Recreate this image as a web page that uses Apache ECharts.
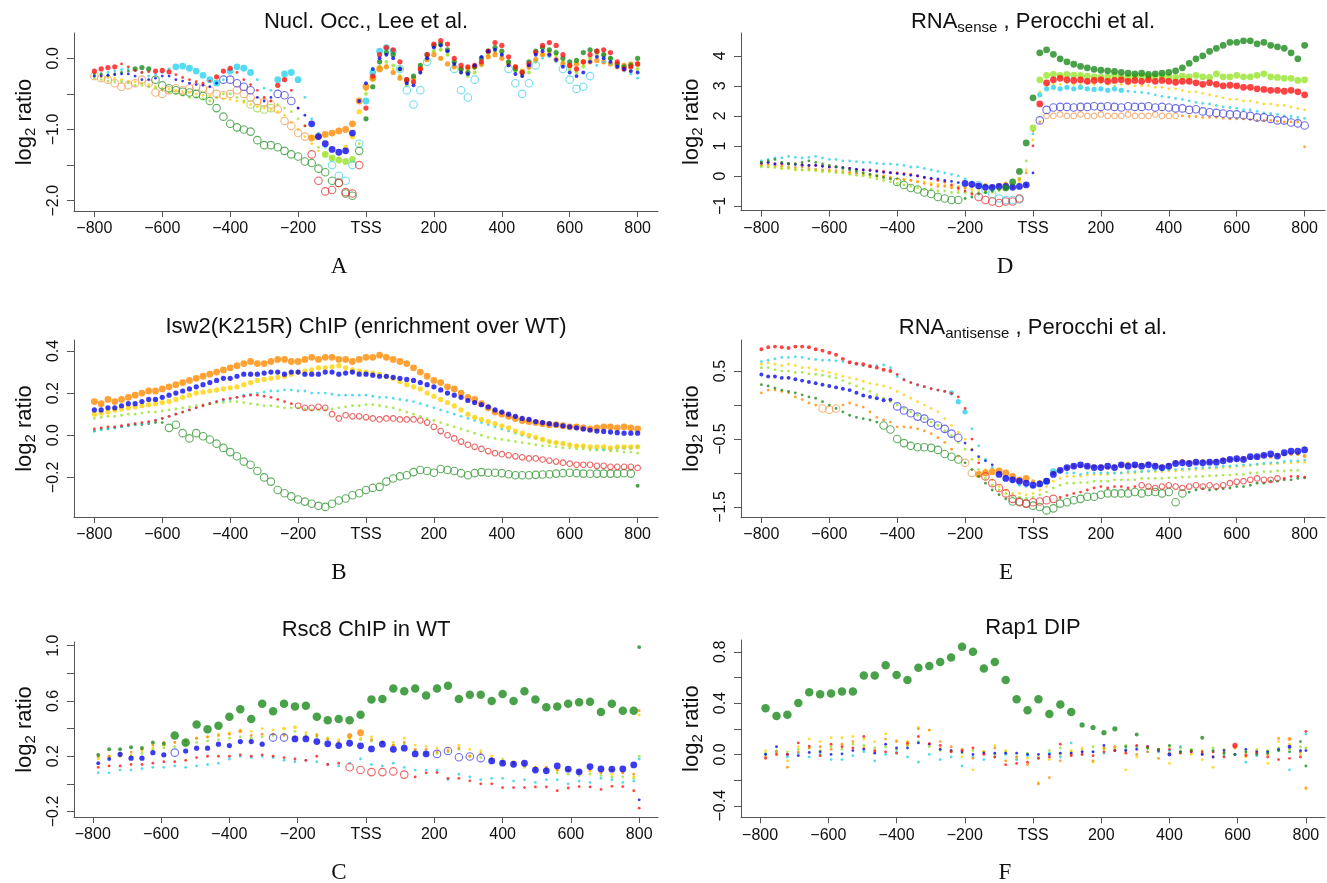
<!DOCTYPE html>
<html>
<head>
<meta charset="utf-8">
<script src="https://cdn.jsdelivr.net/npm/echarts@6/dist/echarts.min.js"></script>
<style>html,body{margin:0;padding:0;background:#fff}#chart{width:1327px;height:883px}</style>
</head>
<body>
<div id="chart"></div>
<script>
// ---------------- DATA ----------------
const X_TICKS = [-800, -600, -400, -200, 0, 200, 400, 600, 800];
const X_TICK_LABELS = ['\u2212800', '\u2212600', '\u2212400', '\u2212200', 'TSS', '200', '400', '600', '800'];

// dense profiles: positions -800..800 every 20 bp (81 values)
const DENSE_START = -800, DENSE_STEP = 20, DENSE_N = 81;
// sparse profiles (panels C, F): -784..784 every 32 bp, then 800 (51 values)
const SPARSE_START = -784, SPARSE_STEP = 32, SPARSE_N = 50, SPARSE_LAST = 800;

// Panel A: Nucl. Occ., Lee et al.
const A_TITLE = 'Nucl. Occ., Lee et al.';
const A_Y_TICKS = [-2, -1.5, -1, -0.5, 0];
const A_Y_LABEL_VALUES = [-2, -1, 0];
const A_Y_LABELS = ['\u22122.0', '\u22121.0', '0.0'];
const A_red = [-0.18,-0.15,-0.13,-0.12,-0.08,-0.12,-0.17,-0.20,-0.19,-0.18,
 -0.17,-0.19,-0.23,-0.27,-0.30,-0.33,-0.35,-0.32,-0.26,-0.18,
 -0.14,-0.20,-0.30,-0.37,-0.45,-0.55,-0.60,-0.38,-0.30,-0.45,
 -0.70,-0.95,-1.35,-1.72,-1.87,-1.85,-1.75,-1.88,-1.90,-1.50,
 -0.70,-0.25,0.05,0.15,0.12,-0.05,-0.30,-0.33,-0.15,0.05,
 0.20,0.25,0.20,0.00,-0.10,-0.12,-0.10,-0.05,0.10,0.22,
 0.18,0.02,-0.12,-0.20,-0.08,0.08,0.18,0.22,0.18,0.05,
 -0.10,-0.15,-0.05,0.05,0.10,0.12,0.08,-0.05,-0.15,-0.12,
 -0.08];
const A_green = [-0.22,-0.22,-0.24,-0.22,-0.20,-0.18,-0.15,-0.13,-0.15,-0.30,
 -0.38,-0.42,-0.45,-0.47,-0.48,-0.50,-0.53,-0.60,-0.70,-0.82,
 -0.92,-0.97,-1.00,-1.03,-1.15,-1.22,-1.22,-1.25,-1.30,-1.35,
 -1.38,-1.45,-1.47,-1.55,-1.60,-1.72,-1.75,-1.90,-1.93,-1.30,
 -0.85,-0.40,-0.05,0.08,0.05,-0.15,-0.30,-0.25,-0.10,0.05,
 0.18,0.20,0.12,-0.05,-0.15,-0.20,-0.12,0.00,0.10,0.15,
 0.10,-0.05,-0.15,-0.20,-0.05,0.10,0.15,0.12,0.08,0.00,
 -0.05,-0.03,0.08,0.12,0.10,0.05,0.00,-0.08,-0.12,-0.10,
 0.00];
const A_cyan = [-0.25,-0.22,-0.20,-0.18,-0.16,-0.15,-0.17,-0.20,-0.25,-0.22,
 -0.20,-0.15,-0.12,-0.11,-0.14,-0.18,-0.24,-0.30,-0.35,-0.30,
 -0.18,-0.12,-0.14,-0.20,-0.30,-0.42,-0.45,-0.30,-0.22,-0.20,
 -0.30,-0.55,-0.85,-1.05,-1.25,-1.50,-1.65,-1.72,-1.50,-1.20,
 -0.60,-0.20,0.10,0.15,0.10,-0.15,-0.45,-0.65,-0.45,-0.05,
 0.18,0.20,0.10,-0.15,-0.45,-0.55,-0.30,-0.05,0.10,0.12,
 0.05,-0.15,-0.35,-0.50,-0.35,-0.10,0.00,0.02,-0.05,-0.15,
 -0.30,-0.43,-0.40,-0.25,-0.10,-0.05,-0.08,-0.12,-0.18,-0.22,
 -0.28];
const A_blue = [-0.25,-0.25,-0.24,-0.23,-0.22,-0.22,-0.25,-0.30,-0.30,-0.28,
 -0.25,-0.25,-0.30,-0.32,-0.35,-0.37,-0.38,-0.40,-0.35,-0.30,
 -0.30,-0.35,-0.40,-0.45,-0.55,-0.60,-0.55,-0.50,-0.52,-0.60,
 -0.70,-0.80,-0.92,-1.10,-1.20,-1.28,-1.32,-1.30,-1.05,-0.60,
 -0.35,-0.15,0.00,0.05,0.00,-0.15,-0.35,-0.38,-0.20,0.00,
 0.15,0.18,0.10,-0.08,-0.20,-0.22,-0.10,0.02,0.10,0.12,
 0.05,-0.10,-0.22,-0.25,-0.10,0.05,0.10,0.05,-0.02,-0.12,
 -0.20,-0.25,-0.20,-0.05,0.02,0.00,-0.05,-0.12,-0.15,-0.18,
 -0.20];
const A_orange = [-0.25,-0.28,-0.30,-0.35,-0.40,-0.38,-0.35,-0.30,-0.35,-0.48,
 -0.50,-0.45,-0.42,-0.45,-0.42,-0.40,-0.42,-0.45,-0.50,-0.52,
 -0.50,-0.45,-0.50,-0.55,-0.60,-0.62,-0.65,-0.72,-0.88,-0.95,
 -1.05,-1.10,-1.12,-1.10,-1.07,-1.05,-1.02,-1.00,-0.92,-0.60,
 -0.40,-0.28,-0.15,-0.12,-0.20,-0.28,-0.32,-0.28,-0.15,-0.02,
 0.05,0.00,-0.08,-0.12,-0.15,-0.14,-0.12,-0.08,0.02,0.05,
 0.00,-0.08,-0.12,-0.18,-0.12,-0.02,0.05,0.05,-0.02,-0.08,
 -0.10,-0.08,-0.05,-0.05,-0.03,-0.05,-0.08,-0.12,-0.10,-0.08,
 -0.08];
const A_yellow = [-0.25,-0.26,-0.27,-0.28,-0.30,-0.32,-0.33,-0.35,-0.37,-0.40,
 -0.42,-0.43,-0.45,-0.47,-0.48,-0.50,-0.52,-0.53,-0.55,-0.57,
 -0.58,-0.60,-0.62,-0.65,-0.68,-0.70,-0.72,-0.75,-0.80,-0.90,
 -1.00,-1.10,-1.20,-1.30,-1.35,-1.40,-1.40,-1.25,-1.10,-0.75,
 -0.45,-0.30,-0.15,-0.10,-0.15,-0.25,-0.35,-0.30,-0.15,-0.02,
 0.10,0.12,0.05,-0.10,-0.18,-0.20,-0.15,-0.08,0.02,0.08,
 0.05,-0.05,-0.15,-0.22,-0.15,-0.02,0.05,0.08,0.02,-0.05,
 -0.12,-0.15,-0.10,0.00,0.05,0.05,0.00,-0.08,-0.12,-0.12,
 -0.10];
const A_lgreen = [-0.28,-0.30,-0.32,-0.33,-0.33,-0.35,-0.38,-0.38,-0.40,-0.42,
 -0.45,-0.48,-0.50,-0.52,-0.55,-0.55,-0.57,-0.60,-0.55,-0.50,
 -0.50,-0.55,-0.60,-0.65,-0.70,-0.72,-0.70,-0.65,-0.70,-0.75,
 -0.85,-0.95,-1.10,-1.25,-1.35,-1.40,-1.43,-1.45,-1.42,-1.20,
 -0.50,-0.30,-0.12,-0.05,-0.10,-0.25,-0.38,-0.35,-0.20,0.00,
 0.10,0.12,0.05,-0.10,-0.20,-0.25,-0.20,-0.10,0.05,0.10,
 0.05,-0.05,-0.18,-0.25,-0.20,-0.05,0.05,0.10,0.05,-0.05,
 -0.15,-0.20,-0.12,0.00,0.05,0.05,0.00,-0.08,-0.15,-0.18,
 -0.15];

// Panel B: Isw2(K215R) ChIP (enrichment over WT)
const B_TITLE = 'Isw2(K215R) ChIP (enrichment over WT)';
const B_Y_TICKS = [-0.2, 0, 0.2, 0.4];
const B_Y_LABEL_VALUES = [-0.2, 0, 0.2, 0.4];
const B_Y_LABELS = ['\u22120.2', '0.0', '0.2', '0.4'];
const B_orange = [0.16,0.15,0.17,0.16,0.17,0.18,0.19,0.20,0.21,0.21,
 0.22,0.23,0.24,0.25,0.26,0.27,0.28,0.29,0.30,0.31,
 0.32,0.33,0.34,0.35,0.34,0.34,0.35,0.36,0.36,0.35,
 0.35,0.36,0.37,0.36,0.37,0.37,0.36,0.36,0.35,0.36,
 0.37,0.37,0.38,0.37,0.36,0.35,0.34,0.32,0.30,0.28,
 0.26,0.25,0.23,0.22,0.20,0.18,0.17,0.15,0.13,0.11,
 0.10,0.09,0.08,0.07,0.065,0.06,0.055,0.05,0.05,0.045,
 0.04,0.04,0.035,0.03,0.035,0.04,0.04,0.035,0.04,0.035,
 0.03];
const B_blue = [0.12,0.12,0.13,0.13,0.14,0.15,0.15,0.16,0.17,0.17,
 0.18,0.19,0.20,0.21,0.22,0.23,0.24,0.25,0.26,0.27,
 0.27,0.28,0.29,0.29,0.29,0.295,0.30,0.30,0.29,0.30,
 0.30,0.29,0.29,0.29,0.30,0.30,0.29,0.295,0.30,0.29,
 0.29,0.285,0.28,0.28,0.275,0.27,0.265,0.26,0.25,0.24,
 0.23,0.215,0.20,0.19,0.18,0.165,0.155,0.145,0.135,0.12,
 0.11,0.10,0.09,0.08,0.075,0.065,0.06,0.055,0.05,0.045,
 0.04,0.035,0.03,0.025,0.02,0.018,0.015,0.012,0.01,0.01,
 0.01];
const B_yellow = [0.10,0.105,0.11,0.12,0.125,0.13,0.135,0.14,0.145,0.15,
 0.155,0.16,0.17,0.18,0.19,0.20,0.205,0.21,0.215,0.22,
 0.225,0.23,0.24,0.25,0.26,0.265,0.27,0.275,0.28,0.29,
 0.30,0.305,0.31,0.32,0.32,0.325,0.33,0.32,0.31,0.305,
 0.30,0.295,0.29,0.28,0.27,0.255,0.24,0.23,0.22,0.20,
 0.185,0.17,0.155,0.14,0.12,0.10,0.085,0.075,0.065,0.055,
 0.045,0.035,0.02,0.01,0.00,-0.01,-0.02,-0.03,-0.035,-0.04,
 -0.045,-0.05,-0.05,-0.055,-0.055,-0.055,-0.06,-0.055,-0.055,-0.055,
 -0.055];
const B_cyan = [0.02,0.025,0.03,0.035,0.04,0.045,0.05,0.055,0.06,0.07,
 0.08,0.09,0.10,0.11,0.12,0.13,0.14,0.15,0.16,0.165,
 0.17,0.18,0.19,0.195,0.20,0.205,0.21,0.21,0.215,0.215,
 0.21,0.21,0.20,0.20,0.20,0.195,0.19,0.19,0.19,0.19,
 0.19,0.185,0.18,0.18,0.175,0.17,0.165,0.16,0.15,0.14,
 0.13,0.12,0.11,0.10,0.09,0.08,0.07,0.06,0.05,0.04,
 0.03,0.02,0.01,0.00,-0.01,-0.015,-0.02,-0.03,-0.035,-0.04,
 -0.045,-0.05,-0.055,-0.06,-0.065,-0.065,-0.065,-0.06,-0.06,-0.06,
 -0.055];
const B_red = [0.03,0.035,0.04,0.04,0.045,0.05,0.055,0.06,0.065,0.07,
 0.08,0.09,0.10,0.11,0.12,0.13,0.14,0.15,0.16,0.17,
 0.175,0.18,0.185,0.19,0.19,0.185,0.18,0.17,0.16,0.15,
 0.14,0.13,0.13,0.135,0.13,0.10,0.08,0.095,0.09,0.09,
 0.085,0.08,0.075,0.08,0.08,0.075,0.075,0.075,0.07,0.06,
 0.04,0.02,0.00,-0.015,-0.03,-0.045,-0.055,-0.065,-0.075,-0.085,
 -0.09,-0.095,-0.10,-0.105,-0.11,-0.11,-0.115,-0.12,-0.125,-0.13,
 -0.135,-0.14,-0.14,-0.14,-0.145,-0.145,-0.15,-0.15,-0.15,-0.15,
 -0.155];
const B_lgreen = [0.08,0.085,0.09,0.09,0.095,0.10,0.10,0.105,0.11,0.11,
 0.115,0.12,0.125,0.13,0.135,0.14,0.145,0.15,0.155,0.155,
 0.16,0.16,0.155,0.15,0.145,0.14,0.14,0.135,0.13,0.13,
 0.13,0.125,0.12,0.12,0.12,0.125,0.13,0.135,0.14,0.14,
 0.145,0.145,0.14,0.135,0.13,0.12,0.11,0.10,0.09,0.08,
 0.07,0.06,0.05,0.04,0.03,0.02,0.01,0.00,-0.01,-0.015,
 -0.02,-0.025,-0.03,-0.035,-0.04,-0.045,-0.05,-0.05,-0.055,-0.06,
 -0.06,-0.065,-0.065,-0.07,-0.07,-0.07,-0.075,-0.075,-0.08,-0.08,
 -0.085];
const B_green = [0.02,0.03,0.03,0.035,0.04,0.045,0.05,0.05,0.055,0.06,
 0.06,0.035,0.05,0.01,-0.015,0.01,-0.005,-0.02,-0.04,-0.06,
 -0.08,-0.10,-0.125,-0.14,-0.17,-0.20,-0.22,-0.26,-0.275,-0.29,
 -0.305,-0.315,-0.325,-0.335,-0.34,-0.325,-0.31,-0.30,-0.285,-0.275,
 -0.26,-0.25,-0.245,-0.22,-0.205,-0.195,-0.19,-0.175,-0.165,-0.17,
 -0.178,-0.16,-0.165,-0.17,-0.18,-0.19,-0.18,-0.175,-0.178,-0.178,
 -0.18,-0.185,-0.19,-0.19,-0.19,-0.188,-0.186,-0.185,-0.182,-0.18,
 -0.178,-0.18,-0.182,-0.183,-0.182,-0.182,-0.182,-0.182,-0.18,-0.182,
 -0.24];

// Panel C: Rsc8 ChIP in WT
const C_TITLE = 'Rsc8 ChIP in WT';
const C_Y_TICKS = [-0.2, 0, 0.2, 0.4, 0.6, 0.8, 1.0];
const C_Y_LABEL_VALUES = [-0.2, 0.2, 0.6, 1.0];
const C_Y_LABELS = ['\u22120.2', '0.2', '0.6', '1.0'];
const C_green = [0.21,0.25,0.25,0.265,0.26,0.30,0.29,0.35,0.30,0.43,
 0.395,0.42,0.485,0.54,0.47,0.58,0.525,0.58,0.56,0.565,
 0.485,0.46,0.47,0.46,0.50,0.61,0.615,0.69,0.67,0.69,
 0.64,0.69,0.71,0.615,0.645,0.645,0.60,0.65,0.60,0.67,
 0.61,0.555,0.56,0.58,0.59,0.595,0.52,0.58,0.53,0.53,
 0.99];
const C_blue = [0.15,0.18,0.214,0.186,0.186,0.226,0.21,0.226,0.238,0.258,
 0.258,0.287,0.277,0.306,0.306,0.287,0.335,0.335,0.325,0.325,
 0.306,0.29,0.277,0.294,0.275,0.253,0.287,0.25,0.258,0.217,
 0.217,0.217,0.238,0.193,0.198,0.186,0.166,0.15,0.142,0.15,
 0.10,0.094,0.13,0.106,0.087,0.125,0.108,0.106,0.108,0.137,
 -0.116];
const C_red = [0.12,0.13,0.13,0.14,0.14,0.15,0.16,0.16,0.17,0.19,
 0.20,0.20,0.20,0.21,0.20,0.21,0.20,0.19,0.18,0.17,
 0.20,0.14,0.15,0.12,0.10,0.085,0.085,0.09,0.067,0.05,
 0.08,0.082,0.04,0.04,0.022,0.00,0.00,-0.027,-0.027,-0.027,
 -0.022,-0.022,-0.05,-0.03,-0.02,-0.022,-0.04,-0.018,-0.02,-0.05,
 -0.176];
const C_orange = [0.20,0.20,0.22,0.23,0.25,0.28,0.30,0.30,0.31,0.33,
 0.34,0.35,0.36,0.38,0.35,0.36,0.36,0.35,0.34,0.34,
 0.35,0.32,0.30,0.35,0.37,0.32,0.30,0.28,0.30,0.25,
 0.25,0.23,0.24,0.26,0.20,0.22,0.18,0.16,0.15,0.13,
 0.12,0.12,0.10,0.10,0.09,0.10,0.08,0.10,0.08,0.07,
 0.53];
const C_yellow = [0.18,0.19,0.20,0.21,0.24,0.26,0.28,0.30,0.31,0.33,
 0.34,0.36,0.37,0.39,0.38,0.40,0.39,0.40,0.41,0.37,
 0.36,0.33,0.32,0.33,0.33,0.34,0.31,0.30,0.33,0.28,
 0.27,0.26,0.26,0.28,0.25,0.24,0.20,0.18,0.16,0.15,
 0.12,0.12,0.10,0.10,0.08,0.09,0.08,0.07,0.08,0.05,
 0.50];
const C_lgreen = [0.19,0.20,0.20,0.20,0.22,0.25,0.26,0.27,0.28,0.30,
 0.31,0.32,0.33,0.34,0.33,0.34,0.35,0.36,0.38,0.35,
 0.34,0.33,0.31,0.33,0.32,0.31,0.30,0.28,0.29,0.24,
 0.22,0.22,0.23,0.25,0.20,0.19,0.18,0.15,0.14,0.12,
 0.10,0.10,0.08,0.07,0.06,0.07,0.06,0.05,0.05,0.04,
 0.20];
const C_cyan = [0.08,0.08,0.10,0.10,0.11,0.12,0.12,0.13,0.12,0.13,
 0.14,0.15,0.18,0.20,0.19,0.20,0.19,0.17,0.16,0.17,
 0.16,0.14,0.13,0.15,0.18,0.14,0.13,0.15,0.12,0.10,
 0.10,0.10,0.03,0.07,0.05,0.03,0.04,0.04,0.02,0.03,
 0.01,0.03,0.03,0.00,0.02,0.01,0.04,0.03,0.01,0.02,
 0.18];

// Panel D: RNA sense, Perocchi et al.
const D_TITLE = ['RNA', 'sense', ' , Perocchi et al.'];
const D_Y_TICKS = [-1, 0, 1, 2, 3, 4];
const D_Y_LABEL_VALUES = [-1, 0, 1, 2, 3, 4];
const D_Y_LABELS = ['\u22121', '0', '1', '2', '3', '4'];
const D_green = [0.45,0.50,0.55,0.45,0.40,0.40,0.45,0.50,0.45,0.40,
 0.35,0.30,0.25,0.20,0.15,0.10,0.05,0.00,-0.05,-0.10,
 -0.20,-0.30,-0.40,-0.45,-0.55,-0.60,-0.70,-0.75,-0.80,-0.80,
 -0.75,-0.70,-0.60,-0.55,-0.50,-0.45,-0.40,-0.20,0.15,1.10,
 2.60,4.10,4.20,4.05,3.90,3.80,3.72,3.65,3.60,3.55,
 3.52,3.50,3.48,3.45,3.42,3.40,3.42,3.38,3.40,3.42,
 3.45,3.50,3.60,3.75,3.90,4.00,4.15,4.25,4.35,4.45,
 4.45,4.50,4.50,4.40,4.45,4.35,4.30,4.25,4.10,3.90,
 4.35];
const D_lgreen = [0.30,0.30,0.28,0.25,0.25,0.22,0.20,0.20,0.18,0.15,
 0.15,0.12,0.10,0.05,0.02,0.00,-0.05,-0.10,-0.15,-0.20,
 -0.25,-0.30,-0.35,-0.40,-0.45,-0.45,-0.50,-0.50,-0.55,-0.55,
 -0.55,-0.55,-0.55,-0.55,-0.55,-0.50,-0.45,-0.30,-0.10,0.50,
 1.60,3.20,3.35,3.38,3.35,3.38,3.36,3.35,3.32,3.30,
 3.28,3.30,3.35,3.30,3.28,3.30,3.32,3.30,3.30,3.32,
 3.30,3.28,3.32,3.30,3.35,3.30,3.28,3.40,3.30,3.30,
 3.35,3.30,3.30,3.35,3.40,3.30,3.28,3.25,3.25,3.18,
 3.20];
const D_red = [0.45,0.45,0.40,0.40,0.42,0.40,0.38,0.35,0.35,0.33,
 0.30,0.30,0.28,0.25,0.22,0.20,0.20,0.18,0.15,0.12,
 0.10,0.08,0.05,0.00,-0.05,-0.10,-0.15,-0.20,-0.30,-0.40,
 -0.50,-0.60,-0.70,-0.80,-0.85,-0.90,-0.85,-0.85,-0.75,-0.30,
 1.00,2.40,3.10,3.20,3.25,3.20,3.18,3.20,3.15,3.18,
 3.20,3.15,3.18,3.20,3.15,3.18,3.15,3.20,3.15,3.18,
 3.15,3.12,3.15,3.15,3.10,3.05,3.10,3.05,3.00,3.02,
 3.00,2.95,2.95,2.90,2.88,2.85,2.85,2.82,2.85,2.80,
 2.70];
const D_orange = [0.35,0.38,0.35,0.32,0.30,0.28,0.30,0.25,0.22,0.20,
 0.20,0.18,0.15,0.12,0.10,0.08,0.05,0.02,0.00,-0.05,
 -0.10,-0.12,-0.15,-0.20,-0.25,-0.30,-0.35,-0.35,-0.40,-0.45,
 -0.40,-0.35,-0.30,-0.30,-0.35,-0.30,-0.25,-0.30,-0.10,0.10,
 1.50,1.80,2.00,2.00,2.05,2.00,2.00,2.05,2.00,2.00,
 2.05,2.00,2.00,2.00,2.05,2.00,2.00,2.00,2.05,2.00,
 2.00,2.00,2.00,1.98,1.98,1.95,1.95,1.95,1.92,1.90,
 1.90,1.90,1.88,1.85,1.85,1.85,1.82,1.80,1.80,1.80,
 0.97];
const D_yellow = [0.35,0.30,0.30,0.25,0.25,0.20,0.20,0.20,0.18,0.15,
 0.15,0.12,0.10,0.08,0.05,0.02,0.00,-0.02,-0.05,-0.08,
 -0.10,-0.12,-0.15,-0.18,-0.20,-0.25,-0.28,-0.30,-0.35,-0.35,
 -0.40,-0.45,-0.45,-0.50,-0.50,-0.45,-0.45,-0.40,-0.20,0.20,
 1.20,2.80,3.00,3.05,3.05,3.10,3.05,3.05,3.10,3.05,
 3.10,3.05,3.00,3.05,3.05,3.00,3.00,3.00,2.95,2.95,
 2.90,2.90,2.85,2.80,2.80,2.75,2.70,2.65,2.60,2.55,
 2.55,2.50,2.50,2.45,2.40,2.40,2.35,2.35,2.30,2.25,
 2.20];
const D_cyan = [0.50,0.55,0.60,0.60,0.65,0.62,0.60,0.62,0.65,0.60,
 0.55,0.55,0.50,0.50,0.48,0.45,0.45,0.42,0.40,0.40,
 0.38,0.35,0.30,0.30,0.25,0.20,0.15,0.10,0.05,0.00,
 -0.10,-0.20,-0.30,-0.45,-0.60,-0.75,-0.80,-0.80,-0.78,-0.30,
 1.40,2.70,2.90,2.95,2.90,2.95,2.90,2.95,2.90,2.88,
 2.90,2.85,2.90,2.85,2.82,2.80,2.78,2.75,2.70,2.65,
 2.62,2.58,2.55,2.50,2.45,2.42,2.40,2.35,2.30,2.28,
 2.25,2.20,2.20,2.15,2.10,2.08,2.05,2.00,1.98,1.95,
 1.92];
const D_blue = [0.42,0.45,0.40,0.42,0.40,0.38,0.36,0.35,0.35,0.32,
 0.30,0.30,0.28,0.25,0.22,0.20,0.18,0.15,0.12,0.10,
 0.08,0.05,0.02,0.00,-0.05,-0.08,-0.10,-0.15,-0.18,-0.22,
 -0.25,-0.28,-0.33,-0.38,-0.38,-0.35,-0.35,-0.38,-0.35,-0.30,
 0.10,1.85,2.20,2.28,2.30,2.30,2.28,2.30,2.30,2.32,
 2.30,2.32,2.30,2.28,2.32,2.30,2.30,2.32,2.28,2.30,
 2.28,2.25,2.25,2.20,2.22,2.15,2.12,2.10,2.08,2.05,
 2.05,2.02,2.00,1.95,1.95,1.90,1.85,1.85,1.78,1.75,
 1.68];

// Panel E: RNA antisense, Perocchi et al.
const E_TITLE = ['RNA', 'antisense', ' , Perocchi et al.'];
const E_Y_TICKS = [-1.5, -1, -0.5, 0, 0.5];
const E_Y_LABEL_VALUES = [-1.5, -0.5, 0.5];
const E_Y_LABELS = ['\u22121.5', '\u22120.5', '0.5'];
const E_red = [0.82,0.85,0.86,0.85,0.84,0.86,0.86,0.85,0.82,0.80,
 0.77,0.74,0.68,0.63,0.61,0.60,0.57,0.55,0.52,0.50,
 0.45,0.37,0.33,0.30,0.27,0.24,0.22,0.20,0.17,0.12,
 -0.05,-0.50,-0.85,-1.05,-1.15,-1.22,-1.30,-1.38,-1.43,-1.45,
 -1.43,-1.42,-1.40,-1.38,-1.36,-1.33,-1.30,-1.28,-1.25,-1.22,
 -1.20,-1.22,-1.20,-1.20,-1.22,-1.20,-1.18,-1.20,-1.22,-1.20,
 -1.18,-1.20,-1.22,-1.20,-1.18,-1.20,-1.18,-1.20,-1.18,-1.15,
 -1.13,-1.12,-1.10,-1.08,-1.10,-1.10,-1.08,-1.08,-1.05,-1.05,
 -1.06];
const E_blue = [0.45,0.42,0.42,0.40,0.40,0.38,0.36,0.34,0.32,0.30,
 0.28,0.26,0.24,0.22,0.18,0.14,0.12,0.10,0.07,0.08,
 -0.02,-0.08,-0.12,-0.17,-0.20,-0.26,-0.30,-0.35,-0.42,-0.48,
 -0.56,-0.66,-0.76,-0.82,-0.88,-1.02,-1.08,-1.10,-1.12,-1.15,
 -1.18,-1.16,-1.12,-1.02,-0.96,-0.92,-0.90,-0.88,-0.90,-0.92,
 -0.92,-0.90,-0.92,-0.88,-0.90,-0.88,-0.90,-0.88,-0.90,-0.92,
 -0.90,-0.86,-0.85,-0.86,-0.84,-0.85,-0.84,-0.84,-0.82,-0.80,
 -0.79,-0.80,-0.76,-0.76,-0.74,-0.72,-0.75,-0.70,-0.68,-0.68,
 -0.66];
const E_cyan = [0.64,0.66,0.68,0.70,0.70,0.71,0.70,0.68,0.67,0.66,
 0.66,0.65,0.64,0.62,0.60,0.58,0.57,0.58,0.59,0.55,
 0.42,0.38,0.33,0.29,0.27,0.24,0.22,0.20,0.18,0.05,
 -0.10,-0.35,-0.60,-0.80,-0.92,-0.98,-1.05,-1.12,-1.18,-1.20,
 -1.20,-1.18,-1.12,-0.98,-0.98,-1.00,-1.00,-1.02,-1.00,-1.00,
 -1.00,-1.00,-1.00,-1.00,-0.98,-0.98,-0.98,-0.97,-0.96,-0.96,
 -0.95,-0.95,-0.94,-0.94,-0.93,-0.92,-0.92,-0.91,-0.90,-0.90,
 -0.89,-0.88,-0.88,-0.87,-0.86,-0.85,-0.85,-0.83,-0.82,-0.82,
 -0.81];
const E_orange = [0.18,0.22,0.22,0.20,0.18,0.12,0.08,0.03,0.00,-0.05,
 -0.07,-0.05,0.00,0.03,0.00,-0.03,-0.10,-0.18,-0.22,-0.25,
 -0.32,-0.32,-0.33,-0.35,-0.38,-0.42,-0.48,-0.55,-0.65,-0.75,
 -0.85,-1.00,-1.02,-1.00,-0.98,-0.97,-1.00,-1.05,-1.10,-1.08,
 -1.12,-1.13,-1.10,-1.00,-0.95,-0.92,-0.90,-0.90,-0.90,-0.90,
 -0.90,-0.92,-0.90,-0.88,-0.86,-0.90,-0.88,-0.86,-0.88,-0.90,
 -0.88,-0.84,-0.82,-0.84,-0.85,-0.82,-0.84,-0.82,-0.80,-0.80,
 -0.80,-0.78,-0.78,-0.76,-0.74,-0.76,-0.74,-0.73,-0.72,-0.72,
 -0.75];
const E_green = [0.30,0.28,0.25,0.22,0.20,0.18,0.15,0.12,0.10,0.05,
 0.00,-0.05,-0.10,-0.15,-0.18,-0.20,-0.22,-0.25,-0.30,-0.36,
 -0.50,-0.56,-0.60,-0.62,-0.62,-0.63,-0.66,-0.72,-0.76,-0.80,
 -0.85,-0.95,-1.05,-1.15,-1.25,-1.32,-1.38,-1.42,-1.42,-1.45,
 -1.48,-1.50,-1.55,-1.52,-1.45,-1.43,-1.40,-1.38,-1.35,-1.35,
 -1.32,-1.30,-1.30,-1.30,-1.30,-1.28,-1.30,-1.28,-1.28,-1.30,
 -1.28,-1.43,-1.30,-1.28,-1.25,-1.23,-1.25,-1.24,-1.23,-1.22,
 -1.20,-1.20,-1.18,-1.15,-1.15,-1.12,-1.12,-1.10,-1.10,-1.08,
 -1.07];
const E_yellow = [0.60,0.62,0.60,0.58,0.60,0.58,0.55,0.55,0.52,0.50,
 0.48,0.45,0.42,0.40,0.38,0.35,0.32,0.30,0.28,0.25,
 0.20,0.15,0.10,0.05,0.00,-0.05,-0.10,-0.20,-0.30,-0.40,
 -0.50,-0.65,-0.80,-0.95,-1.10,-1.20,-1.25,-1.30,-1.30,-1.32,
 -1.30,-1.25,-1.20,-1.12,-1.08,-1.05,-1.05,-1.05,-1.03,-1.02,
 -1.02,-1.02,-1.00,-1.00,-1.00,-1.00,-0.98,-0.98,-0.98,-0.98,
 -0.97,-0.97,-0.96,-0.95,-0.95,-0.94,-0.93,-0.93,-0.92,-0.92,
 -0.90,-0.90,-0.89,-0.88,-0.87,-0.87,-0.86,-0.85,-0.85,-0.84,
 -0.84];
const E_lgreen = [0.55,0.55,0.52,0.50,0.50,0.48,0.48,0.46,0.45,0.44,
 0.42,0.40,0.36,0.32,0.28,0.24,0.20,0.15,0.10,0.05,
 0.00,-0.05,-0.10,-0.15,-0.20,-0.25,-0.30,-0.38,-0.45,-0.55,
 -0.65,-0.80,-0.95,-1.08,-1.18,-1.25,-1.30,-1.35,-1.36,-1.37,
 -1.36,-1.32,-1.28,-1.22,-1.18,-1.15,-1.15,-1.14,-1.14,-1.12,
 -1.12,-1.12,-1.10,-1.10,-1.10,-1.10,-1.08,-1.08,-1.08,-1.08,
 -1.07,-1.07,-1.06,-1.06,-1.05,-1.05,-1.04,-1.04,-1.03,-1.03,
 -1.02,-1.02,-1.00,-1.00,-0.98,-0.98,-0.97,-0.97,-0.96,-0.96,
 -0.62];

// Panel F: Rap1 DIP
const F_TITLE = 'Rap1 DIP';
const F_Y_TICKS = [-0.4, -0.2, 0, 0.2, 0.4, 0.6, 0.8];
const F_Y_LABEL_VALUES = [-0.4, 0, 0.4, 0.8];
const F_Y_LABELS = ['\u22120.4', '0.0', '0.4', '0.8'];
const F_green = [0.36,0.30,0.31,0.40,0.485,0.47,0.475,0.49,0.49,0.615,
 0.615,0.695,0.62,0.58,0.675,0.69,0.72,0.755,0.84,0.80,
 0.67,0.72,0.58,0.43,0.345,0.43,0.315,0.39,0.33,0.23,
 0.21,0.17,0.20,0.06,0.155,0.05,0.04,0.07,0.02,0.03,
 0.13,0.03,0.01,0.00,0.02,0.00,0.01,0.03,0.02,0.10,
 -0.09];
const F_red = [-0.03,0.00,0.00,0.09,0.065,-0.01,0.08,0.06,0.05,0.14,
 0.03,0.02,0.01,0.09,0.14,0.085,0.07,0.02,0.03,0.05,
 0.00,-0.02,-0.08,-0.07,-0.06,-0.03,-0.02,0.08,-0.01,0.00,
 -0.01,0.02,0.03,0.01,0.07,0.06,0.04,0.04,0.01,0.02,
 0.02,0.02,-0.02,0.07,-0.01,0.01,-0.02,-0.04,-0.03,-0.02,
 0.18];
const F_orange = [-0.02,0.02,-0.10,0.02,0.05,0.06,0.04,0.08,0.10,0.05,
 0.02,0.12,0.10,0.08,0.20,0.19,0.10,0.06,0.04,-0.03,
 0.02,0.05,-0.05,-0.02,-0.08,-0.23,-0.18,-0.05,0.00,0.02,
 -0.05,0.05,0.06,0.03,0.00,0.02,-0.03,0.01,0.02,0.03,
 0.00,-0.02,0.01,0.05,0.00,0.02,0.00,0.125,0.12,0.02,
 -0.26];
const F_yellow = [0.03,0.00,-0.05,0.06,0.12,0.10,0.13,0.13,0.14,0.12,
 0.10,0.16,0.11,0.10,0.21,0.19,0.05,0.03,-0.02,-0.12,
 0.02,0.07,0.03,-0.04,-0.03,-0.22,-0.04,0.00,0.03,0.05,
 -0.06,0.05,0.04,-0.12,-0.02,0.05,0.02,-0.07,0.06,0.00,
 -0.04,-0.10,0.03,0.05,-0.02,0.03,-0.07,0.10,0.08,0.00,
 -0.27];
const F_cyan = [0.00,0.02,-0.02,0.01,-0.02,0.00,-0.04,-0.04,-0.01,0.02,
 -0.05,0.00,0.02,-0.02,-0.06,0.00,-0.04,-0.02,-0.09,-0.02,
 -0.04,-0.02,0.00,-0.04,-0.01,-0.03,0.01,-0.02,0.09,0.00,
 0.02,0.01,0.03,0.04,0.06,0.02,0.02,0.03,0.06,0.03,
 0.01,0.02,-0.01,0.00,-0.06,-0.01,0.02,0.03,-0.12,0.02,
 0.16];
const F_blue = [0.00,0.06,0.00,-0.01,0.015,0.02,0.00,0.005,0.03,0.04,
 0.01,0.08,0.05,0.05,0.09,0.08,0.04,0.03,0.02,0.00,
 0.01,0.01,0.01,0.01,0.00,0.00,0.00,0.01,0.01,0.02,
 0.02,0.07,0.03,0.03,0.04,0.06,0.03,0.00,0.02,0.02,
 0.00,-0.02,0.03,0.00,0.04,0.02,0.02,0.04,0.06,0.03,
 0.03];
const F_lgreen = [0.01,0.03,0.02,0.04,0.05,0.03,0.06,0.04,0.08,0.07,
 0.05,0.06,0.04,0.07,0.10,0.06,0.03,0.02,0.01,0.03,
 0.02,0.00,0.02,-0.02,0.01,-0.02,0.03,0.05,0.02,0.04,
 0.06,0.04,0.05,0.07,0.06,0.05,0.04,0.06,0.05,0.04,
 0.03,0.05,0.04,0.06,0.02,0.04,0.03,0.05,0.04,0.06,
 0.05];

// ---------------- STYLE / LAYOUT ----------------
const FONT = "'Liberation Sans', Arial, Helvetica, sans-serif";
const FONT_SERIF = "'Liberation Serif', 'DejaVu Serif', 'Times New Roman', serif";
const AXIS_COLOR = '#555';
const TEXT_COLOR = '#111';

const DENSE_X = Array.from({length: DENSE_N}, (_, i) => DENSE_START + DENSE_STEP * i);
const SPARSE_X = Array.from({length: SPARSE_N}, (_, i) => SPARSE_START + SPARSE_STEP * i).concat([SPARSE_LAST]);

const KIND = {
  dot:   {size: 2.8},
  small: {size: 3.9},
  mid:   {size: 5.2},
  big:   {size: 6.8},
  huge:  {size: 8.5},
  open:  {size: 7.5, open: true},
  openS: {size: 5.6, open: true}
};
const COLORS = {
  green:  {fill: '#1b8a1b', line: '#3a9a3a'},
  red:    {fill: '#ff1414', line: '#e63c3c'},
  orange: {fill: '#ff8a00', line: '#f3a05e'},
  yellow: {fill: '#ffd200', line: '#e9c634'},
  lgreen: {fill: '#96e42a', line: '#a2d650'},
  cyan:   {fill: '#2ad2ee', line: '#4cd4ee'},
  blue:   {fill: '#0a0aee', line: '#4a4ae0'}
};

// panel layout + per-series marker style segments ([from bp, to bp, kind])
const PANELS = [
  {id: 'A', grid: [74, 33, 584, 178], xr: [-860, 860], yr: [-2.145, 0.355],
   yTicks: A_Y_TICKS, yLabVals: A_Y_LABEL_VALUES, yLabs: A_Y_LABELS,
   title: A_TITLE, titleX: 366, titleTop: 9, letter: 'A', letterX: 339, letterTop: 254, xs: DENSE_X,
   series: [
     {c: 'yellow', d: A_yellow, def: 'dot', segs: [[-60, -20, 'mid']]},
     {c: 'lgreen', d: A_lgreen, def: 'dot', segs: [[-340, -280, 'open'], [-120, -40, 'big'], [0, 800, 'small']]},
     {c: 'orange', d: A_orange, def: 'dot', segs: [[-800, -180, 'open'], [-160, 40, 'big'], [60, 800, 'mid']]},
     {c: 'cyan', d: A_cyan, def: 'dot', segs: [[-560, -440, 'big'], [-400, -340, 'big'], [-260, -200, 'big'], [-100, -20, 'open'], [0, 80, 'big'], [100, 180, 'open'], [260, 320, 'open'], [420, 500, 'open'], [580, 660, 'open']]},
     {c: 'green', d: A_green, def: 'dot', segs: [[-680, -640, 'mid'], [-620, -20, 'open'], [0, 800, 'mid']]},
     {c: 'red', d: A_red, def: 'dot', segs: [[-800, -740, 'mid'], [-620, -580, 'mid'], [-440, -400, 'mid'], [-260, -240, 'mid'], [-160, -20, 'open'], [0, 800, 'mid']]},
     {c: 'blue', d: A_blue, def: 'dot', segs: [[-420, -340, 'open'], [-260, -220, 'open'], [-160, -40, 'big'], [-20, 800, 'small']]}
   ]},
  {id: 'B', grid: [74, 340, 584, 177], xr: [-860, 860], yr: [-0.388, 0.452],
   yTicks: B_Y_TICKS, yLabVals: B_Y_LABEL_VALUES, yLabs: B_Y_LABELS,
   title: B_TITLE, titleX: 366, titleTop: 314, letter: 'B', letterX: 339, letterTop: 560, xs: DENSE_X,
   series: [
     {c: 'green', d: B_green, def: 'dot', segs: [[-580, 780, 'open'], [800, 800, 'small']]},
     {c: 'lgreen', d: B_lgreen, def: 'dot', segs: []},
     {c: 'cyan', d: B_cyan, def: 'dot', segs: [[700, 800, 'small']]},
     {c: 'red', d: B_red, def: 'dot', segs: [[-200, 800, 'openS']]},
     {c: 'orange', d: B_orange, def: 'big', segs: []},
     {c: 'yellow', d: B_yellow, def: 'mid', segs: []},
     {c: 'blue', d: B_blue, def: 'mid', segs: []}
   ]},
  {id: 'C', grid: [74, 642, 584, 175], xr: [-855, 855], yr: [-0.24, 1.027],
   yTicks: C_Y_TICKS, yLabVals: C_Y_LABEL_VALUES, yLabs: C_Y_LABELS,
   title: C_TITLE, titleX: 366, titleTop: 617, letter: 'C', letterX: 339, letterTop: 860, xs: SPARSE_X,
   series: [
     {c: 'cyan', d: C_cyan, def: 'dot', segs: []},
     {c: 'lgreen', d: C_lgreen, def: 'dot', segs: []},
     {c: 'yellow', d: C_yellow, def: 'dot', segs: [[-240, -200, 'small']]},
     {c: 'red', d: C_red, def: 'dot', segs: [[-50, 120, 'open']]},
     {c: 'orange', d: C_orange, def: 'dot', segs: [[-370, -360, 'small'], [-50, -40, 'mid'], [-20, -10, 'big']]},
     {c: 'blue', d: C_blue, def: 'dot', segs: [[-800, -740, 'small'], [-720, -580, 'mid'], [-565, -555, 'open'], [-540, -290, 'mid'], [-280, -230, 'open'], [-210, 190, 'big'], [200, 340, 'open'], [360, 790, 'big']]},
     {c: 'green', d: C_green, def: 'small', segs: [[-570, 790, 'huge']]}
   ]},
  {id: 'D', grid: [741, 33, 584, 177.5], xr: [-860, 860], yr: [-1.15, 4.76],
   yTicks: D_Y_TICKS, yLabVals: D_Y_LABEL_VALUES, yLabs: D_Y_LABELS,
   title: D_TITLE, titleX: 1033, titleTop: 9, letter: 'D', letterX: 1005, letterTop: 254, xs: DENSE_X,
   series: [
     {c: 'yellow', d: D_yellow, def: 'dot', segs: []},
     {c: 'orange', d: D_orange, def: 'dot', segs: [[-140, -40, 'small'], [40, 420, 'openS']]},
     {c: 'cyan', d: D_cyan, def: 'dot', segs: [[-160, -40, 'open'], [20, 260, 'mid']]},
     {c: 'lgreen', d: D_lgreen, def: 'dot', segs: [[0, 800, 'big']]},
     {c: 'red', d: D_red, def: 'dot', segs: [[-160, -40, 'open'], [20, 800, 'big']]},
     {c: 'blue', d: D_blue, def: 'dot', segs: [[-200, -20, 'big'], [20, 800, 'open']]},
     {c: 'green', d: D_green, def: 'dot', segs: [[-400, -220, 'open'], [-80, 800, 'big']]}
   ]},
  {id: 'E', grid: [741, 340, 584, 177], xr: [-860, 860], yr: [-1.647, 0.957],
   yTicks: E_Y_TICKS, yLabVals: E_Y_LABEL_VALUES, yLabs: E_Y_LABELS,
   title: E_TITLE, titleX: 1033, titleTop: 315, letter: 'E', letterX: 1006, letterTop: 560, xs: DENSE_X,
   series: [
     {c: 'yellow', d: E_yellow, def: 'dot', segs: []},
     {c: 'lgreen', d: E_lgreen, def: 'dot', segs: []},
     {c: 'cyan', d: E_cyan, def: 'dot', segs: [[-240, -200, 'mid'], [40, 60, 'big']]},
     {c: 'orange', d: E_orange, def: 'dot', segs: [[-620, -580, 'open'], [-200, -180, 'open'], [-160, -20, 'big'], [0, 800, 'small']]},
     {c: 'green', d: E_green, def: 'dot', segs: [[-440, -220, 'open'], [-60, 440, 'open']]},
     {c: 'red', d: E_red, def: 'dot', segs: [[-800, -420, 'small'], [-140, 60, 'open'], [320, 720, 'openS']]},
     {c: 'blue', d: E_blue, def: 'dot', segs: [[-800, -420, 'small'], [-400, -220, 'open'], [-100, 800, 'big']]}
   ]},
  {id: 'F', grid: [741, 640, 584, 177.3], xr: [-856, 856], yr: [-0.49, 0.892],
   yTicks: F_Y_TICKS, yLabVals: F_Y_LABEL_VALUES, yLabs: F_Y_LABELS,
   title: F_TITLE, titleX: 1033, titleTop: 615, letter: 'F', letterX: 1005, letterTop: 860, xs: SPARSE_X,
   series: [
     {c: 'lgreen', d: F_lgreen, def: 'dot', segs: []},
     {c: 'yellow', d: F_yellow, def: 'dot', segs: []},
     {c: 'cyan', d: F_cyan, def: 'dot', segs: []},
     {c: 'orange', d: F_orange, def: 'dot', segs: [[740, 760, 'small']]},
     {c: 'blue', d: F_blue, def: 'dot', segs: [[395, 405, 'small'], [750, 760, 'small']]},
     {c: 'red', d: F_red, def: 'dot', segs: [[585, 600, 'mid']]},
     {c: 'green', d: F_green, def: 'dot', segs: [[-800, 120, 'huge'], [130, 250, 'mid'], [300, 310, 'small'], [490, 500, 'small']]}
   ]}
];

// ---------------- BUILD ----------------
function lookup(vals, labs, v) {
  for (let i = 0; i < vals.length; i++) if (Math.abs(vals[i] - v) < 1e-9) return labs[i];
  return '';
}
function kindOf(x, segs, def) {
  for (const s of segs) if (x >= s[0] - 1e-6 && x <= s[1] + 1e-6) return s[2];
  return def;
}
const TITLE_RICH = {
  n: {fontFamily: FONT, fontSize: 22, color: TEXT_COLOR, fontWeight: 'normal', lineHeight: 26, verticalAlign: 'middle'},
  s: {fontFamily: FONT, fontSize: 15, color: TEXT_COLOR, fontWeight: 'normal', lineHeight: 15, verticalAlign: 'bottom'}
};
const NAME_RICH = {
  a: {fontFamily: FONT, fontSize: 22, color: TEXT_COLOR, lineHeight: 26, verticalAlign: 'middle'},
  b: {fontFamily: FONT, fontSize: 15, color: TEXT_COLOR, lineHeight: 15, verticalAlign: 'bottom'}
};

const option = {animation: false, backgroundColor: '#ffffff', title: [], grid: [], xAxis: [], yAxis: [], series: []};

PANELS.forEach((p, k) => {
  option.grid.push({left: p.grid[0], top: p.grid[1], width: p.grid[2], height: p.grid[3], containLabel: false});
  option.xAxis.push({
    type: 'value', gridIndex: k, min: p.xr[0], max: p.xr[1],
    axisLine: {show: true, onZero: false, lineStyle: {color: AXIS_COLOR, width: 1}},
    axisTick: {show: true, customValues: X_TICKS, length: 6, lineStyle: {color: AXIS_COLOR, width: 1}},
    axisLabel: {show: true, customValues: X_TICKS, formatter: v => lookup(X_TICKS, X_TICK_LABELS, v),
      fontFamily: FONT, fontSize: 16, color: TEXT_COLOR, margin: 10},
    splitLine: {show: false}
  });
  option.yAxis.push({
    type: 'value', gridIndex: k, min: p.yr[0], max: p.yr[1],
    axisLine: {show: true, onZero: false, lineStyle: {color: AXIS_COLOR, width: 1}},
    axisTick: {show: true, customValues: p.yTicks, length: 7, lineStyle: {color: AXIS_COLOR, width: 1}},
    axisLabel: {show: true, customValues: p.yLabVals, formatter: v => lookup(p.yLabVals, p.yLabs, v),
      rotate: 90, fontFamily: FONT, fontSize: 16, color: TEXT_COLOR, margin: 12},
    splitLine: {show: false},
    name: '{a|log}{b|2}{a| ratio}', nameLocation: 'middle', nameRotate: 90, nameGap: 36,
    nameTextStyle: {fontFamily: FONT, fontSize: 22, color: TEXT_COLOR, rich: NAME_RICH}
  });
  const titleText = Array.isArray(p.title) ? '{n|' + p.title[0] + '}{s|' + p.title[1] + '}{n|' + p.title[2] + '}' : '{n|' + p.title + '}';
  option.title.push({text: titleText, left: p.titleX, top: p.titleTop, textAlign: 'center', padding: 0,
    textStyle: {fontFamily: FONT, fontSize: 22, fontWeight: 'normal', color: TEXT_COLOR, rich: TITLE_RICH}});
  option.title.push({text: p.letter, left: p.letterX, top: p.letterTop, textAlign: 'center', padding: 0,
    textStyle: {fontFamily: FONT_SERIF, fontSize: 23, fontWeight: 'normal', color: TEXT_COLOR, lineHeight: 26}});

  p.series.forEach(s => {
    if (s.d.length !== p.xs.length) throw new Error('length mismatch in panel ' + p.id + ' ' + s.c + ': ' + s.d.length);
    const groups = {};
    s.d.forEach((y, i) => {
      if (y === null || y === undefined) return;
      const x = p.xs[i];
      const kd = kindOf(x, s.segs, s.def);
      (groups[kd] = groups[kd] || []).push([x, y]);
    });
    ['dot', 'small', 'openS', 'open', 'mid', 'big', 'huge'].forEach(kd => {
      if (!groups[kd]) return;
      const K = KIND[kd], col = COLORS[s.c];
      option.series.push({
        type: 'scatter', name: p.id + '-' + s.c + '-' + kd, xAxisIndex: k, yAxisIndex: k,
        data: groups[kd], symbol: 'circle', symbolSize: K.size, silent: true,
        itemStyle: K.open ? {color: 'rgba(255,255,255,0)', borderColor: col.line, borderWidth: 1.1}
                          : {color: col.fill, borderWidth: 0},
        emphasis: {disabled: true}
      });
    });
  });
});

const chart = echarts.init(document.getElementById('chart'), null, {renderer: 'canvas'});
chart.setOption(option);
</script>
</body>
</html>
